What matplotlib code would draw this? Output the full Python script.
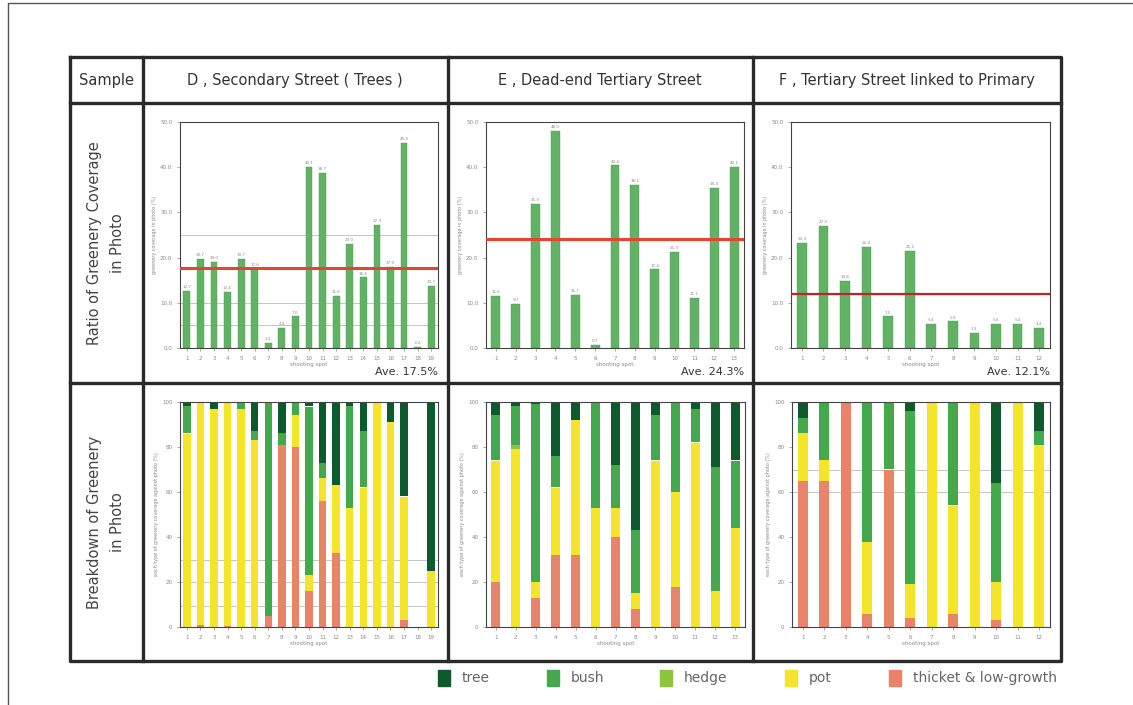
import numpy as np
import matplotlib
matplotlib.use("Agg")
import matplotlib.pyplot as plt
from matplotlib.patches import Rectangle

W, H = 1133, 705

# ---- data ----
headers = ["D , Secondary Street ( Trees )", "E , Dead-end Tertiary Street",
           "F , Tertiary Street linked to Primary"]
averages = ["Ave. 17.5%", "Ave. 24.3%", "Ave. 12.1%"]
avg_values = [17.8, 24.1, 11.9]

coverage_D = [12.7, 19.7, 19.0, 12.4, 19.7, 17.6, 1.2, 4.4, 7.0, 40.1,
              38.7, 11.6, 23.0, 15.6, 27.3, 17.9, 45.3, 0.2, 13.7]
coverage_E = [11.6, 9.7, 31.9, 48.0, 11.7, 0.7, 40.4, 36.1, 17.4, 21.3,
              11.1, 35.4, 40.1]
coverage_F = [23.3, 27.0, 14.8, 22.4, 7.0, 21.5, 5.4, 5.9, 3.3, 5.4, 5.4, 4.4]

# breakdown (% of greenery), stacked bottom -> top: thicket, pot, hedge, bush, tree
thicket_D = [0, 1, 0, 0.5, 0, 0, 5, 81, 80, 16, 56, 33, 0, 0, 0, 0, 3, 0, 0]
pot_D     = [86, 99, 97, 99.5, 97, 83, 0, 0, 14, 7, 10, 30, 53, 62, 100, 91, 55, 0, 25]
hedge_D   = [0, 0, 0, 0, 0, 0, 0, 0, 0, 0, 0, 0, 0, 0, 0, 0, 0, 0, 0]
bush_D    = [12, 0, 0, 0, 3, 4, 95, 5, 6, 75, 7, 0, 45, 25, 0, 0, 0, 0, 0]
tree_D    = [2, 0, 3, 0, 0, 13, 0, 14, 0, 2, 27, 37, 2, 13, 0, 9, 42, 0, 75]

thicket_E = [20, 0, 13, 32, 32, 0, 40, 8, 0, 18, 0, 0, 0]
pot_E     = [54, 79, 7, 30, 60, 53, 13, 7, 74, 42, 82, 16, 44]
hedge_E   = [0, 2, 0, 0, 0, 0, 0, 0, 0, 0, 0, 0, 0]
bush_E    = [20, 17, 79, 14, 0, 47, 19, 28, 20, 40, 15, 55, 30]
tree_E    = [6, 2, 1, 24, 8, 0, 28, 57, 6, 0, 3, 29, 26]

thicket_F = [65, 65, 100, 6, 70, 4, 0, 6, 0, 3, 0, 0]
pot_F     = [21, 9, 0, 32, 0, 15, 100, 48, 100, 17, 100, 81]
hedge_F   = [0, 0, 0, 0, 0, 0, 0, 0, 0, 0, 0, 0]
bush_F    = [7, 26, 0, 62, 30, 77, 0, 46, 0, 44, 0, 6]
tree_F    = [7, 0, 0, 0, 0, 4, 0, 0, 0, 36, 0, 13]

legend_labels = ["tree", "bush", "hedge", "pot", "thicket & low-growth"]
colors = {"tree": "#0d5a2c", "bush": "#43a94c", "hedge": "#8cc43c",
          "pot": "#f5e52a", "thicket & low-growth": "#e8846a"}

coverage = [coverage_D, coverage_E, coverage_F]
breakdown = [
    [thicket_D, pot_D, hedge_D, bush_D, tree_D],
    [thicket_E, pot_E, hedge_E, bush_E, tree_E],
    [thicket_F, pot_F, hedge_F, bush_F, tree_F],
]
stack_names = ["thicket & low-growth", "pot", "hedge", "bush", "tree"]

# faint scan lines visible in the reference (data units)
faint_top = [[25, 10, 5], [], []]
faint_bottom = [[30, 20, 9.5], [], [70, 60]]

font = ["Liberation Sans Narrow", "DejaVu Sans"]


def px(x0, y0, x1, y1):
    return [x0 / W, 1 - y1 / H, (x1 - x0) / W, (y1 - y0) / H]


fig = plt.figure(figsize=(W / 100, H / 100), dpi=100)
bg = fig.add_axes([0, 0, 1, 1])
bg.set_xlim(0, W)
bg.set_ylim(H, 0)
bg.axis("off")

# page border
bg.plot([8, 8, W], [H, 3, 3], color="#555555", lw=1.0)

# table
tl = dict(color="#2a2a2a", lw=2.4, solid_capstyle="projecting")
left, right, top, bottom = 70, 1061, 57, 661
bg.plot([left, right, right, left, left], [top, top, bottom, bottom, top], **tl)
for y in [103, 383]:
    bg.plot([left, right], [y, y], **tl)
for x in [143, 448, 753]:
    bg.plot([x, x], [top, bottom], **tl)

bg.text(106, 80, "Sample", ha="center", va="center", fontsize=10.5,
        color="#333333", family=font)
for cx, h in zip([295, 600, 907], headers):
    bg.text(cx, 80, h, ha="center", va="center", fontsize=10.5,
            color="#333333", family=font)
bg.text(106, 243, "Ratio of Greenery Coverage\nin Photo", ha="center",
        va="center", rotation=90, fontsize=10.5, color="#444444",
        family=font, linespacing=1.6)
bg.text(106, 522, "Breakdown of Greenery\nin Photo", ha="center",
        va="center", rotation=90, fontsize=10.5, color="#444444",
        family=font, linespacing=1.6)

# legend
sq_x = [438, 547, 660, 785, 889]
for x, lab in zip(sq_x, legend_labels):
    bg.add_patch(Rectangle((x, 670), 12, 16, color=colors[lab]))
    bg.text(x + 24, 678, lab, va="center", ha="left", fontsize=10,
            color="#666666", family=font)

top_x = [(180, 438), (486, 744), (791, 1050)]
bot_x = [(180, 438), (486, 745), (792, 1050)]


def style(ax):
    for s in ax.spines.values():
        s.set_color("#444444")
        s.set_linewidth(0.8)
    ax.tick_params(labelsize=4, colors="#888888", length=2, width=0.5)


for i in range(3):
    vals = coverage[i]
    n = len(vals)
    idx = np.arange(1, n + 1)

    ax = fig.add_axes(px(top_x[i][0], 122, top_x[i][1], 348))
    for v in faint_top[i]:
        ax.axhline(v, color="#bbbbbb", lw=0.6, zorder=0)
    ax.bar(idx, vals, width=0.5 if n > 15 else 0.45, color="#62b266",
           edgecolor="#4d9e52", linewidth=0.3, zorder=2)
    for xx, v in zip(idx, vals):
        ax.text(xx, v + 0.4, f"{v:.1f}", ha="center", va="bottom",
                fontsize=3, color="#888888")
    ax.axhline(avg_values[i], color="#e8432f" if i < 2 else "#c8202a",
               lw=2.2 if i < 2 else 1.6, zorder=3)
    ax.set_xlim(0.5, n + 0.5)
    ax.set_ylim(0, 50)
    ax.set_yticks(np.arange(0, 51, 10))
    ax.set_yticklabels([f"{t:.1f}" for t in np.arange(0, 51, 10)])
    ax.set_xticks(idx)
    ax.set_xlabel("shooting spot", fontsize=4, color="#888888", labelpad=1)
    ax.set_ylabel("greenery coverage in photo (%)", fontsize=3.5,
                  color="#888888", labelpad=2)
    style(ax)
    ax.text(1.0, -0.085, averages[i], transform=ax.transAxes, ha="right",
            va="top", fontsize=8, color="#333333", family=font)

    ax2 = fig.add_axes(px(bot_x[i][0], 402, bot_x[i][1], 627))
    for v in faint_bottom[i]:
        ax2.axhline(v, color="#bbbbbb", lw=0.6, zorder=0)
    base = np.zeros(n)
    for name, seg in zip(stack_names, breakdown[i]):
        seg = np.array(seg, dtype=float)
        ax2.bar(idx, seg, bottom=base, width=0.55 if n > 15 else 0.45,
                color=colors[name], linewidth=0, zorder=2)
        base = base + seg
    ax2.set_xlim(0.5, n + 0.5)
    ax2.set_ylim(0, 100)
    ax2.set_yticks(np.arange(0, 101, 20))
    ax2.set_xticks(idx)
    ax2.set_xlabel("shooting spot", fontsize=4, color="#888888", labelpad=1)
    ax2.set_ylabel("each type of greenery coverage against photo (%)",
                   fontsize=3.5, color="#888888", labelpad=2)
    style(ax2)

fig.savefig("out.png", dpi=100)
